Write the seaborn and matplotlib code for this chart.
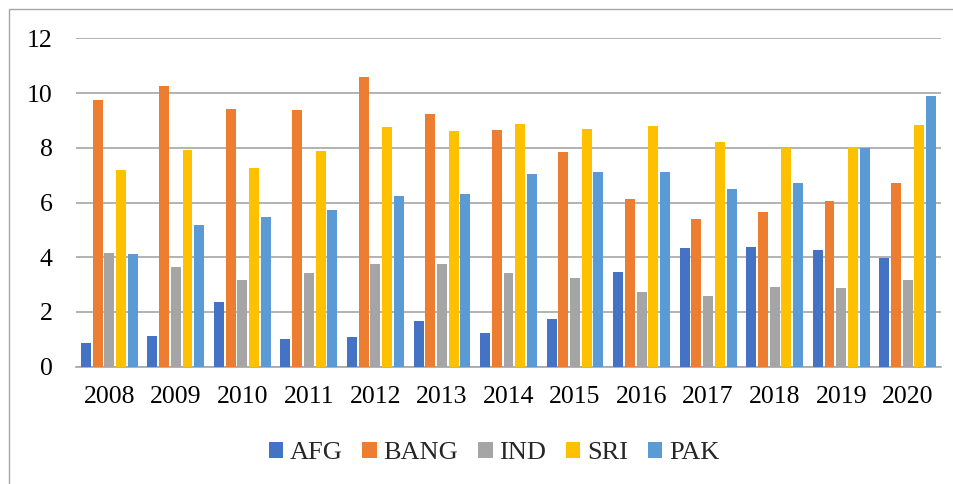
import matplotlib
matplotlib.use("Agg")
import matplotlib.pyplot as plt
import pandas as pd
import seaborn as sns
from matplotlib.patches import Rectangle

# Werte
years = ["2008", "2009", "2010", "2011", "2012", "2013", "2014",
         "2015", "2016", "2017", "2018", "2019", "2020"]
afg = [0.88, 1.12, 2.36, 1.00, 1.08, 1.66, 1.22, 1.73, 3.46, 4.34, 4.36, 4.28, 3.98]
bang = [9.74, 10.26, 9.40, 9.38, 10.57, 9.22, 8.66, 7.83, 6.11, 5.40, 5.66, 6.05, 6.70]
ind = [4.15, 3.65, 3.18, 3.41, 3.74, 3.74, 3.42, 3.25, 2.72, 2.58, 2.90, 2.89, 3.15]
sri = [7.17, 7.92, 7.26, 7.87, 8.75, 8.62, 8.86, 8.67, 8.79, 8.21, 8.00, 8.01, 8.83]
pak = [4.12, 5.16, 5.46, 5.72, 6.22, 6.31, 7.04, 7.13, 7.10, 6.50, 6.72, 8.00, 9.89]
series = ["AFG", "BANG", "IND", "SRI", "PAK"]
colors = ["#4472C4", "#ED7D31", "#A5A5A5", "#FFC000", "#5B9BD5"]

df = pd.DataFrame({"AFG": afg, "BANG": bang, "IND": ind, "SRI": sri, "PAK": pak}, index=years)
long_df = df.reset_index(names="year").melt(id_vars="year", var_name="country", value_name="value")

sns.set_style("white")
plt.rcParams["font.family"] = ["Liberation Serif", "DejaVu Serif"]

fig = plt.figure(figsize=(9.54, 4.84), dpi=100)
ax = fig.add_axes([76 / 954, 1 - 366.7 / 484, (941 - 76) / 954, (366.7 - 38.3) / 484])

sns.barplot(data=long_df, x="year", y="value", hue="country", hue_order=series,
            palette=colors, width=0.88, gap=0.15, linewidth=0, saturation=1,
            errorbar=None, ax=ax, zorder=3)

ax.set_ylim(0, 12)
ax.set_yticks(range(0, 13, 2))
ax.set_xlim(-0.5, len(years) - 0.5)
ax.yaxis.grid(True, color="#A6A6A6", linewidth=1.2, zorder=0)
ax.set_axisbelow(True)
for side in ["top", "right", "left"]:
    ax.spines[side].set_visible(False)
ax.spines["bottom"].set_color("#A6A6A6")
ax.spines["bottom"].set_linewidth(1.2)
ax.tick_params(axis="both", length=0, labelsize=18.5, colors="black")
ax.tick_params(axis="x", pad=14)
ax.tick_params(axis="y", pad=17)
ax.set_xlabel("")
ax.set_ylabel("")

ax.legend(loc="center", bbox_to_anchor=(494 / 954, 1 - 453 / 484),
          bbox_transform=fig.transFigure, ncol=5, frameon=False,
          fontsize=19, handlelength=0.55, handleheight=0.55,
          handletextpad=0.25, columnspacing=0.75)

# Rahmen um das Diagramm
fig.patches.append(Rectangle((9 / 954, -0.1), 1.2, 1 - 9 / 484 + 0.1,
                             transform=fig.transFigure, fill=False,
                             edgecolor="#A6A6A6", linewidth=1.0))

fig.savefig("out.png", dpi=100)
